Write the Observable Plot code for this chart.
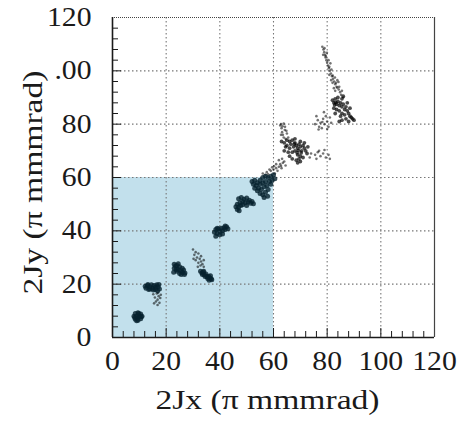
<!DOCTYPE html>
<html><head><meta charset="utf-8">
<script src="https://cdn.jsdelivr.net/npm/d3@7"></script>
<script src="https://cdn.jsdelivr.net/npm/@observablehq/plot@0.6"></script>
<style>body{margin:0;background:#fff}</style>
</head><body><div id="chart"></div>
<script>
// ---- data ----
const xDomain = [0, 120];
const yDomain = [0, 120];
const majorTicks = [0, 20, 40, 60, 80, 100, 120];
const xTickLabels = ["0", "20", "40", "60", "80", "100", "120"];
const yTickLabels = ["0", "20", "40", "60", "80", ".00", "120"];
const gridValues = [20, 40, 60, 80, 100];
const innerMajor = [20, 40, 60, 80, 100];
const minorTicks = [4, 8, 12, 16, 24, 28, 32, 36, 44, 48, 52, 56, 64, 68, 72, 76, 84, 88, 92, 96, 104, 108, 112, 116];
const regionX = [0, 60];
const regionY = [0, 60];
const xTitle = "2Jx (π mmmrad)";
const yTitle = "2Jy (π mmmrad)";

// solid clusters (inside the shaded region)
const clusterA = [[8,8],[8.5,9],[9.5,9.3],[10.5,8.8],[11,8],[10.5,7],[9.5,6.5],[8.5,6.8],[9,8],[10,8],[9.3,7.3],[9.8,9],[8.3,7.5],[10.7,7.8],[9,6.3]];
const clusterB = [[12.5,18.5],[13,19.5],[13.5,18],[14,19],[14.5,19.8],[15,18.5],[15.5,19.5],[16,18.8],[16.5,19.8],[17,19],[17.5,18.2],[12.2,19.2],[14,18.2],[16,18],[17.3,19.9],[13.2,19.9],[15.2,17.8],[16.8,17.5]];
const clusterC = [[23,27.5],[23.5,26.8],[23,26],[24,27],[24.5,25.5],[25,26.5],[25.5,25],[26,24.5],[26.5,25.3],[27,24.2],[25,24],[24,24.8],[26,26],[23.8,25.5],[25.6,23.6],[26.8,23.6],[24.5,27.7],[22.8,24.5]];
const clusterD = [[32.8,24.8],[33.3,24.2],[33.8,24.5],[34.2,23.5],[34.8,23.8],[35.2,22.8],[35.8,23],[36.3,22.3],[36.8,22],[37,21.7],[33.5,23.6],[34.5,22.9],[35.5,22.1],[36,21.5],[34,24.8],[36.5,23.2]];
const clusterE = [[38,39.5],[38.5,40.5],[39,39],[39.5,40.8],[40,39.8],[40.5,41],[41,40],[41.5,41.2],[42,40.5],[42.5,41.5],[43,40.8],[39,41],[41,38.8],[40,38.5],[38.5,38],[42,41.8]];
const clusterF = [[47,52],[48,52.5],[49,51.8],[50,52.3],[51,51.5],[52,51],[52.5,50.2],[48.5,51],[49.5,50.5],[50.5,50.8],[51.5,50.3],[47.5,50.5],[46.5,50],[46,49],[47,48.8],[47.8,49.5],[46.5,48],[48.5,49.8],[50,49.5],[47.2,47.5]];
const clusterG = [[52,58.5],[53,59],[54,58],[55,59],[56,60],[57,60.5],[58,60],[59,60.5],[60,61],[53.5,57],[55,57.5],[56,58],[57,58.5],[58.5,58.5],[59.5,59],[54.5,56],[55.5,55.5],[56.5,56.5],[57.5,57],[55,54],[56,53.5],[56.5,52.5],[57,54.5],[58,55.5],[54,55],[53,56],[52.5,57.5],[59,57.5],[60.5,59.5],[57.8,53]];

// textured clusters (above the shaded region)
const clusterH = [[63,73.5],[64,73],[65,74],[66,73.5],[66.5,72.5],[67,74],[68,73],[68.5,72],[69,71],[69.5,72.5],[70,71.5],[70.5,70],[71,72],[71.5,71],[72,70],[72.5,69],[68,70],[67,69.5],[66,71],[65,72],[64.5,71.5],[67.5,71.5],[69,68.5],[70,68],[69.5,67],[70,66],[69,65.5],[68.5,66.5],[71,67.5],[66,68],[65.5,69.5],[71.5,73],[72.8,71.5],[68,74.5],[70,73.5],[67,67],[64,70],[69.3,70.2],[68.8,69.3],[70.3,69.2],[67.8,72.6]];
const clusterI = [[82,89],[82.5,88],[83,89.5],[83.5,87.5],[84,88.5],[84.5,87],[85,88],[85.5,86.5],[86,87.5],[86.5,85.5],[87,86.5],[87.5,85],[88,84],[88.5,83],[89,82.5],[89.5,82],[90,81.5],[82.5,86],[83.5,85.5],[84.5,85],[85.5,84],[86.5,83.5],[87,82],[88,81],[84,90],[85.5,89.5],[86,90.5],[87.5,88],[88.5,86],[85,83],[83,84],[84.5,81],[85.5,81.5],[83.2,88.2],[82.8,87.2]];

// sparse clouds
const sparseB = [[16.5,16.5],[17.2,15.5],[15.8,15],[16.8,14.2],[17.8,14.8],[16.2,13.5],[17.5,13],[15.5,12.8],[16.8,12.2],[18,16],[15.2,16.2],[17,16.8]];
const sparseD = [[30,33],[31,32],[30.5,31],[32,31.5],[31.5,30],[32.5,29.5],[33,28.5],[32,28],[31,29],[33.5,27.5],[32.8,27],[34,26.5],[31.8,26.5],[33,30.5],[30.2,29.5],[34,29]];
const chainGH = [[56,61.5],[57.5,62],[59,62.5],[60,63],[61,63.5],[62,64],[62.5,65],[63.5,65.5],[64,66],[58,61.2],[60.5,61.5],[61.5,62.5],[63,63.5],[62,66.5],[59.5,63.8],[64.5,64.5],[58.5,63],[61,65],[60.2,64.2],[62.8,64.3],[57,61],[63.2,67]];
const loopH = [[62.5,79.5],[63,78.5],[63.2,77],[63.5,76],[63.8,75],[64.3,79],[64.8,77.5],[65,76.5],[65.5,75],[62.8,80],[63.8,80.2],[62.8,76],[64.5,74.5],[63.4,79.2],[64.2,77.8]];
const sparseRight = [[75.5,68.5],[76.5,69.5],[77.5,68],[78.5,69],[79.5,67.5],[80.5,68.5],[81,67],[77,70],[79,70.3],[76,67],[74,69],[73.5,67.5]];
const sparseUpper = [[75.5,80],[76.5,81.5],[77.5,80.5],[78.5,82],[79,80],[80,81],[80.5,79],[81.5,80.5],[77,79],[78,78.5],[79.5,83],[76,83],[81,82.5],[78.8,84.5],[80,78.2],[76.8,78],[78.2,80.8]];
const streakThin = [[78.2,109],[78.6,108],[78.9,107],[79.2,106],[79.4,105],[78.5,106],[79.7,104],[80,103],[80.3,102],[80.6,101],[81,100],[81.4,99],[81.8,98],[82.2,97],[82.6,96],[83,95],[83.5,94],[80.8,98.5],[82,95.5],[83.8,96.5],[84.3,93],[84.8,92],[83,92.5],[85.2,91],[79,108.5],[80.5,104],[79.5,105.5],[80.8,101.5],[82.1,98.2],[83.3,95.5],[84.5,94],[85.5,92.5],[79.9,106.8],[81.6,100.5],[82.9,97.5],[81.2,102.8],[83.8,93.7],[84.2,95.8],[82.5,93.5],[86,90],[81.5,96.5]];

const solidSets = [clusterA, clusterB, clusterC, clusterD, clusterE, clusterF, clusterG];
const texturedSets = [clusterH, clusterI];
const sparseSets = [sparseB, sparseD, chainGH, loopH, sparseRight, sparseUpper, streakThin];

const toRows = sets => sets.flat().map(([x, y]) => ({x, y}));
const solidRows = toRows(solidSets);
const texturedRows = toRows(texturedSets);
const sparseRows = toRows(sparseSets);

const serif = "'Liberation Serif', 'Times New Roman', serif";
const ink = "#1a1a1a";

const plot = Plot.plot({
  width: 462,
  height: 427,
  marginLeft: 112,
  marginRight: 28,
  marginTop: 17,
  marginBottom: 90,
  x: {domain: xDomain, axis: null},
  y: {domain: yDomain, axis: null},
  style: {fontFamily: serif, background: "#fff", color: ink},
  marks: [
    Plot.rect([0], {x1: regionX[0], x2: regionX[1], y1: regionY[0], y2: regionY[1], fill: "#c2e0ec"}),
    Plot.gridX(gridValues, {stroke: "#777", strokeOpacity: 1, strokeDasharray: "1.5,2.5", strokeWidth: 1.1}),
    Plot.gridY(gridValues, {stroke: "#777", strokeOpacity: 1, strokeDasharray: "1.5,2.5", strokeWidth: 1.1}),
    Plot.dot(sparseRows, {x: "x", y: "y", r: 1.3, fill: "#000", fillOpacity: 0.55, stroke: null}),
    Plot.dot(texturedRows, {x: "x", y: "y", r: 1.9, fill: "#000", fillOpacity: 0.7, stroke: null}),
    Plot.dot(solidRows, {x: "x", y: "y", r: 2.5, fill: "#06222e", fillOpacity: 0.8, stroke: null}),
    // frame
    Plot.ruleY([yDomain[1]], {stroke: "#444", strokeDasharray: "1,1", strokeWidth: 1.2}),
    Plot.ruleX([xDomain[1]], {stroke: "#444", strokeWidth: 1.2}),
    Plot.ruleY([yDomain[0]], {stroke: ink, strokeWidth: 1.6}),
    Plot.ruleX([xDomain[0]], {stroke: ink, strokeWidth: 1.6}),
    // inward ticks
    Plot.axisX(minorTicks, {anchor: "bottom", tickSize: -6, tickFormat: () => "", stroke: ink, label: null}),
    Plot.axisX(innerMajor, {anchor: "bottom", tickSize: -9, tickFormat: () => "", stroke: ink, label: null}),
    Plot.axisY(minorTicks, {anchor: "left", tickSize: -6, tickFormat: () => "", stroke: ink, label: null}),
    Plot.axisY(innerMajor, {anchor: "left", tickSize: -9, tickFormat: () => "", stroke: ink, label: null}),
    // tick labels
    Plot.axisX(majorTicks, {anchor: "bottom", tickSize: 0, tickPadding: 13, tickFormat: (d, i) => xTickLabels[i], fontSize: 27, fill: ink, label: null}),
    Plot.axisY(majorTicks, {anchor: "left", tickSize: 0, tickPadding: 21, tickFormat: (d, i) => yTickLabels[i], fontSize: 27, fill: ink, label: null}),
    // titles
    Plot.text([xTitle], {frameAnchor: "bottom", dx: -6, dy: 71, fontSize: 28, fill: ink}),
    Plot.text([yTitle], {frameAnchor: "left", rotate: -90, dx: -79, dy: 5, fontSize: 28, fill: ink})
  ]
});
document.getElementById("chart").appendChild(plot);

// widen glyphs horizontally like the reference typeface
d3.select(plot).selectAll("text").each(function () {
  const t = this.textContent;
  if (!t) return;
  const w = this.getComputedTextLength();
  const isTitle = t === xTitle || t === yTitle;
  const f = isTitle ? 1.2 : 1.1;
  const W = w * f;
  this.setAttribute("textLength", W.toFixed(1));
  this.setAttribute("lengthAdjust", "spacingAndGlyphs");
  if (t === yTitle) {
    // rotated title: anchor explicitly from its start so it stays centred
    this.setAttribute("text-anchor", "start");
    this.setAttribute("x", (-W / 2).toFixed(1));
  }
});
</script>
</body></html>
